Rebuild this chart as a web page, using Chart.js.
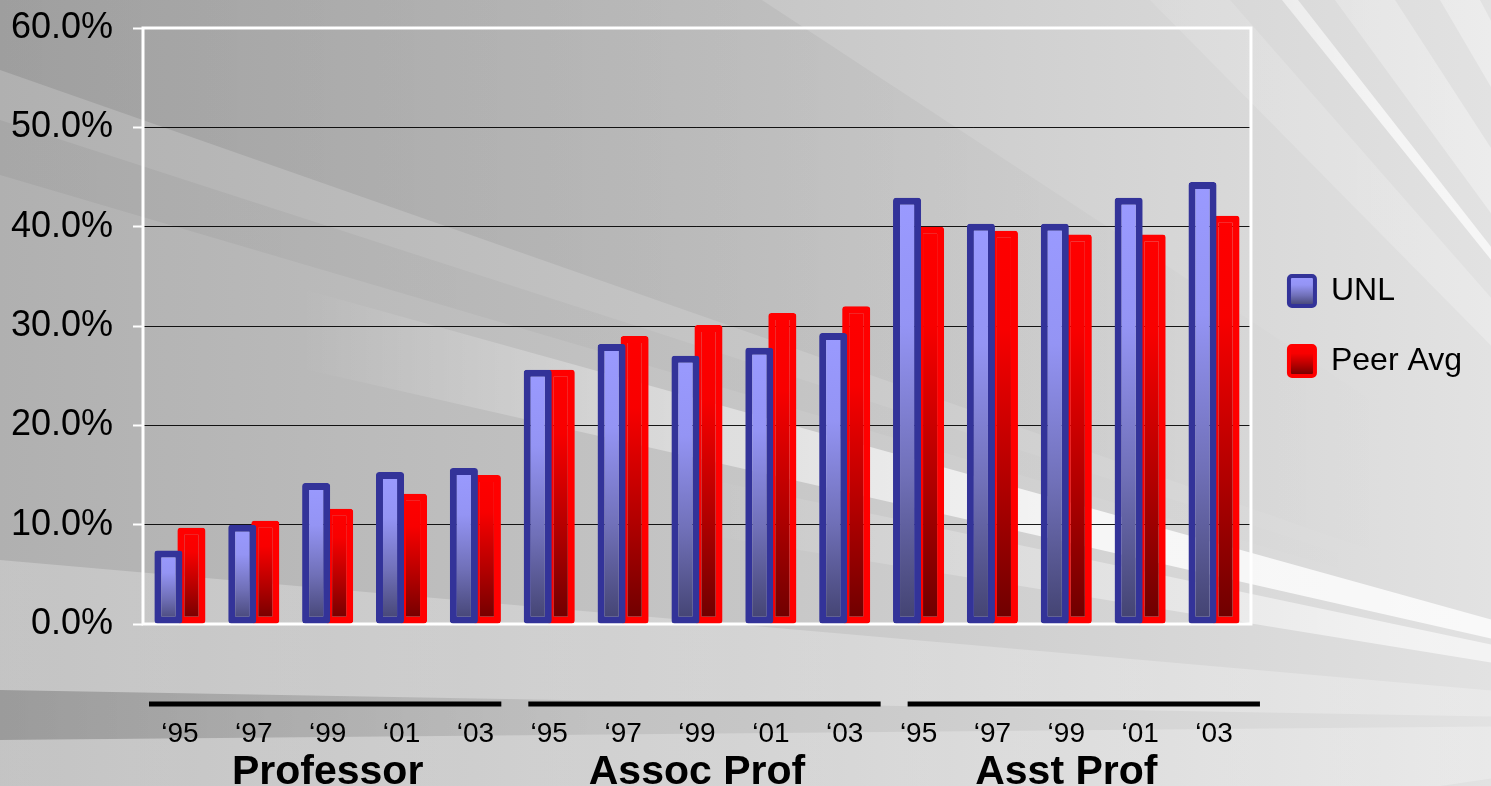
<!DOCTYPE html>
<html>
<head>
<meta charset="utf-8">
<script src="https://cdn.jsdelivr.net/npm/chart.js@4/dist/chart.umd.min.js"></script>
<style>
  html, body { margin: 0; padding: 0; background: #c8c8c8; }
  canvas { display: block; }
</style>
</head>
<body>
<canvas id="chart" width="1491" height="786"></canvas>
<script>
const groups = ['Professor', 'Assoc Prof', 'Asst Prof'];
const years = ['\u201895', '\u201897', '\u201899', '\u201801', '\u201803'];
const unlValues = [7.4, 10.0, 14.2, 15.3, 15.7, 25.6, 28.2, 27.0, 27.8, 29.3, 42.9, 40.3, 40.3, 42.9, 44.5];
const peerValues = [9.7, 10.4, 11.6, 13.1, 15.0, 25.6, 29.0, 30.1, 31.3, 32.0, 40.0, 39.6, 39.2, 39.2, 41.1];
const seriesNames = ['UNL', 'Peer Avg'];

const labels = groups.flatMap(() => years);

Chart.defaults.font.family = "'Liberation Sans', Arial, sans-serif";
Chart.defaults.color = '#000';

// colour ramps, top of bar -> bottom of bar
const blueStops = [[0, '#9a9aff'], [0.3, '#9494f4'], [0.65, '#7070b8'], [1, '#424270']];
const redStops = [[0, '#ff0000'], [0.25, '#f80000'], [0.65, '#b00000'], [1, '#6c0000']];

function ramp(ctx, top, bottom, stops) {
    const g = ctx.createLinearGradient(0, top, 0, bottom);
    stops.forEach(([o, c]) => g.addColorStop(o, c));
    return g;
}

function barFill(stops, flat) {
    return (c) => {
        const chart = c.chart;
        if (c.type !== 'data' || !chart.chartArea) return flat;
        const y = chart.scales.y;
        return ramp(chart.ctx, y.getPixelForValue(c.raw), y.getPixelForValue(0), stops);
    };
}

// grey slide background with light / dark rays
const streaks = [
    { a: [0, -500], b: [0, 70], rgb: '0,0,0', alpha: 0.10, from: 1400, to: 0 },
    { a: [0, 120], b: [0, 175], rgb: '0,0,0', alpha: 0.05, from: 1400, to: 0 },
    { a: [0, 205], b: [0, 300], rgb: '255,255,255', alpha: 0.8, from: 300, to: 1100 },
    { a: [0, 330], b: [0, 420], rgb: '255,255,255', alpha: 0.6, from: 700, to: 1400 },
    { a: [0, 560], b: [0, 690], rgb: '255,255,255', alpha: 0.25, from: -1, to: 0 },
    { a: [0, 690], b: [0, 740], rgb: '0,0,0', alpha: 0.12, from: 600, to: 0 },
    { a: [0, 740], b: [0, 1000], rgb: '255,255,255', alpha: 0.25, from: -1, to: 0 },
    { a: [1150, 0], b: [1230, 0], rgb: '255,255,255', alpha: 0.25, from: 900, to: 1500 },
    { a: [1282, 0], b: [1298, 0], rgb: '255,255,255', alpha: 0.7, from: 1000, to: 1400 },
    { a: [1335, 0], b: [1395, 0], rgb: '255,255,255', alpha: 0.35, from: 1000, to: 1491 },
    { a: [1440, 0], b: [1480, 0], rgb: '255,255,255', alpha: 0.35, from: 1000, to: 1491 }
];

const backdrop = {
    id: 'backdrop',
    beforeDraw(chart) {
        const { ctx, width, height } = chart;
        ctx.save();
        const base = ctx.createLinearGradient(0, 0, width, 0);
        base.addColorStop(0, '#b0b0b0');
        base.addColorStop(0.5, '#c6c6c6');
        base.addColorStop(1, '#e2e2e2');
        ctx.fillStyle = base;
        ctx.fillRect(0, 0, width, height);

        const px = width * 1.25, py = height * 0.92;
        streaks.forEach(s => {
            const far = (p) => [px + (p[0] - px) * 3, py + (p[1] - py) * 3];
            const A = far(s.a), B = far(s.b);
            const g = ctx.createLinearGradient(s.from, 0, s.to, 0);
            g.addColorStop(0, `rgba(${s.rgb},0)`);
            g.addColorStop(1, `rgba(${s.rgb},${s.alpha})`);
            ctx.fillStyle = g;
            ctx.beginPath();
            ctx.moveTo(px, py);
            ctx.lineTo(A[0], A[1]);
            ctx.lineTo(B[0], B[1]);
            ctx.closePath();
            ctx.fill();
        });
        ctx.restore();

        // legend swatches get the same ramp as the bars
        const lg = chart.legend;
        if (lg && lg.legendHitBoxes && lg.legendItems) {
            lg.legendHitBoxes.forEach((hb, i) => {
                const it = lg.legendItems[i];
                if (!it) return;
                it.fillStyle = ramp(ctx, hb.top + 1, hb.top + hb.height - 1, i === 0 ? blueStops : redStops);
            });
        }
    }
};

// white frame round the plot area
const frame = {
    id: 'frame',
    beforeDatasetsDraw(chart) {
        const { ctx, chartArea: a } = chart;
        ctx.save();
        ctx.strokeStyle = '#fff';
        ctx.lineWidth = 3;
        ctx.strokeRect(a.left, a.top, a.right - a.left, a.bottom - a.top);
        ctx.restore();
    }
};

// black bars above each rank's years
const groupRules = {
    id: 'groupRules',
    afterDraw(chart) {
        const { ctx } = chart;
        const x = chart.scales.x;
        const span = (x.right - x.left) / groups.length;
        ctx.save();
        ctx.strokeStyle = '#000';
        ctx.lineWidth = 5;
        groups.forEach((g, i) => {
            const start = x.left + span * i + 6 + 10 * i;
            ctx.beginPath();
            ctx.moveTo(start, x.top + 80);
            ctx.lineTo(start + span - 17, x.top + 80);
            ctx.stroke();
        });
        ctx.restore();
    }
};

new Chart(document.getElementById('chart'), {
    type: 'bar',
    data: {
        labels: labels,
        datasets: [
            {
                label: seriesNames[0],
                data: unlValues,
                xAxisID: 'x',
                backgroundColor: barFill(blueStops, '#7a7ad0'),
                borderColor: '#333399',
                borderWidth: 7,
                borderRadius: 3,
                borderSkipped: false,
                categoryPercentage: 0.623,
                barPercentage: 1.22
            },
            {
                label: seriesNames[1],
                data: peerValues,
                xAxisID: 'x',
                backgroundColor: barFill(redStops, '#c00000'),
                borderColor: '#ff0000',
                borderWidth: 7,
                borderRadius: 3,
                borderSkipped: false,
                categoryPercentage: 0.623,
                barPercentage: 1.22
            }
        ]
    },
    options: {
        responsive: false,
        animation: false,
        layout: { padding: { top: 28, right: 19, bottom: 0, left: 0 } },
        scales: {
            y: {
                min: 0,
                max: 60,
                ticks: {
                    stepSize: 10,
                    padding: 20,
                    font: { size: 36 },
                    callback: (v) => v.toFixed(1) + '%'
                },
                grid: {
                    color: (c) => (c.tick && (c.tick.value === 0 || c.tick.value === 60)) ? '#fff' : 'rgba(0,0,0,0.9)',
                    lineWidth: 1,
                    tickColor: '#fff',
                    tickLength: 10,
                    tickWidth: 2
                },
                border: { display: false },
                afterFit: (scale) => {
                    scale.width = 143;
                    scale.paddingTop = 0;
                    scale.paddingBottom = 0;
                }
            },
            x: {
                weight: 0,
                grid: { display: false },
                border: { display: false },
                ticks: {
                    autoSkip: false,
                    maxRotation: 0,
                    minRotation: 0,
                    padding: 88,
                    font: { size: 28, lineHeight: 1 }
                },
                afterFit: (scale) => { scale.height = 120; }
            },
            x2: {
                type: 'category',
                labels: groups,
                offset: true,
                position: 'bottom',
                weight: 1,
                grid: { display: false },
                border: { display: false },
                ticks: {
                    autoSkip: false,
                    maxRotation: 0,
                    padding: 0,
                    font: { size: 41, weight: 'bold', lineHeight: 1 }
                },
                afterFit: (scale) => { scale.height = 42; }
            }
        },
        plugins: {
            tooltip: { enabled: false },
            legend: {
                position: 'right',
                fullSize: false,
                labels: {
                    boxWidth: 26,
                    boxHeight: 30,
                    padding: 38,
                    useBorderRadius: true,
                    borderRadius: 3,
                    font: { size: 32 },
                    color: '#000',
                    generateLabels: (chart) => chart.data.datasets.map((ds, i) => ({
                        text: ds.label,
                        fillStyle: i === 0 ? '#7a7ad0' : '#c00000',
                        strokeStyle: ds.borderColor,
                        lineWidth: 4,
                        borderRadius: 3,
                        datasetIndex: i,
                        hidden: false
                    }))
                }
            }
        }
    },
    plugins: [backdrop, frame, groupRules]
});
</script>
</body>
</html>
